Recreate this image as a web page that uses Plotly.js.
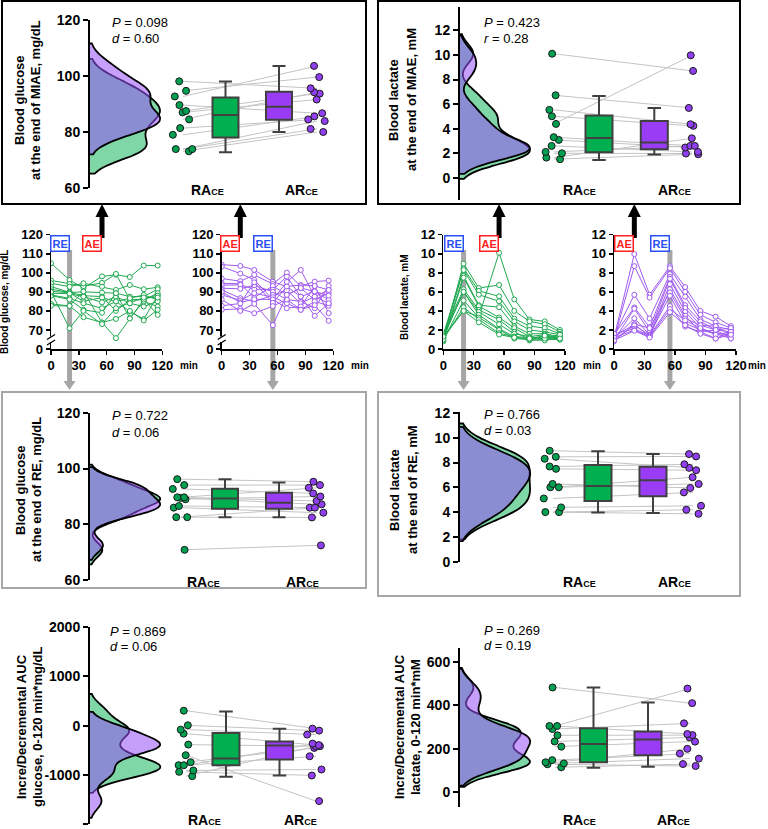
<!DOCTYPE html>
<html>
<head>
<meta charset="utf-8">
<script src="https://cdn.plot.ly/plotly-3.0.1.min.js"></script>
<style>html,body{margin:0;padding:0;background:#fff}</style>
</head>
<body>
<div id="chart" style="width:768px;height:829px"></div>
<script>
// sampling times, min
const times = [0, 20, 35, 55, 70, 85, 100, 115];

// time courses, one row per participant
const glucoseRA = [
  [105, 96.2, 92, 98.1, 99, 97.8, 103.8, 103.8],
  [96, 94.1, 93, 94.7, 99.4, 86, 86, 88.4],
  [94.5, 92.7, 94.5, 92.7, 91, 93.6, 91.4, 92.4],
  [92.8, 89.7, 90, 89.6, 89.3, 87.5, 87.5, 91.4],
  [91.4, 89.7, 88, 87.5, 80, 85.8, 85.8, 89.3],
  [90.3, 89.5, 85, 87.0, 84.9, 86.7, 88.4, 85.8],
  [89.3, 89.0, 87.5, 84.5, 87.5, 84, 82.3, 85],
  [88.4, 86.6, 84, 81.4, 85, 79.7, 75.7, 88],
  [88, 86.0, 80.6, 79.0, 89.3, 76.2, 85, 82.3],
  [83.7, 82.6, 90.2, 73.9, 75.8, 80, 75, 80.6],
  [82.7, 82.6, 76.7, 73.9, 65.7, 76, 86, 77.9],
  [90, 70.9, 80, 73.1, 81.4, 84, 87, 87]
];
const glucoseAR = [
  [104.3, 103.6, 101.5, 95.3, 92.8, 93.6, 93.1, 91],
  [103.2, 99.6, 96.3, 86.0, 95.2, 101.5, 87.5, 84],
  [97, 95.6, 98.9, 94.1, 100.1, 93, 95.4, 95.9],
  [94.5, 94.2, 87, 93.1, 88.4, 91.9, 85.8, 89.3],
  [93.5, 93.7, 91.4, 91.1, 98, 87.5, 90.2, 85.8],
  [91.9, 91.6, 93.5, 90.0, 86, 84.9, 81.4, 93.1],
  [91, 86.7, 84.9, 88.4, 90.7, 84, 87.5, 91],
  [88.4, 85.6, 89.3, 87.2, 84, 80.6, 85, 82.7],
  [90, 84.5, 86.1, 86.0, 81.4, 82.3, 93.1, 78.8],
  [82.7, 83.9, 95, 84.2, 92.8, 87.5, 77.4, 84],
  [80.6, 81.1, 78.8, 82.5, 86, 80.6, 83, 74.8],
  [86, 80.0, 83.7, 72.5, 88.4, 92, 90.2, 88]
];
const lactateRA = [
  [1.2, 4.0, 3.4, 10.1, 5.2, 3.1, 2.9, 2.0],
  [1.0, 8.95, 6.4, 6.72, 4.0, 2.9, 2.6, 1.8],
  [1.5, 8.46, 6.1, 5.53, 3.2, 2.4, 2.2, 1.6],
  [1.3, 8.3, 5.7, 5.01, 2.9, 2.0, 1.8, 1.5],
  [1.1, 7.68, 4.6, 4.39, 2.4, 1.6, 1.6, 1.3],
  [0.8, 7.49, 4.5, 3.31, 2.2, 1.3, 1.5, 1.2],
  [1.6, 6.27, 4.1, 3.09, 1.8, 1.0, 1.3, 1.0],
  [1.2, 6.0, 3.9, 2.6, 1.6, 1.3, 1.0, 1.3],
  [1.4, 6.0, 3.6, 2.11, 1.3, 0.9, 1.0, 1.0],
  [0.9, 5.1, 3.3, 2.0, 1.1, 1.0, 0.9, 1.2],
  [1.0, 4.38, 3.1, 1.65, 1.3, 1.2, 1.1, 1.5],
  [1.3, 4.0, 2.8, 1.52, 1.2, 1.1, 1.4, 1.1]
];
const lactateAR = [
  [1.2, 9.97, 5.7, 8.68, 6.5, 4.0, 3.4, 2.4],
  [1.0, 8.70, 5.4, 8.49, 6.0, 3.6, 2.8, 2.2],
  [1.4, 5.69, 3.2, 7.86, 5.5, 3.1, 2.4, 2.0],
  [1.5, 4.36, 2.3, 7.57, 4.6, 2.9, 2.0, 1.8],
  [0.9, 4.23, 1.8, 7.38, 4.3, 2.5, 2.4, 1.5],
  [1.1, 3.22, 1.5, 6.81, 3.9, 2.2, 1.6, 1.1],
  [0.8, 2.6, 1.3, 6.27, 3.5, 1.8, 1.1, 1.8],
  [1.3, 2.6, 2.2, 5.95, 3.2, 2.5, 2.0, 2.2],
  [1.0, 2.47, 1.5, 5.59, 2.7, 2.0, 1.6, 1.5],
  [1.6, 2.11, 1.4, 4.51, 2.35, 1.8, 2.0, 1.1],
  [1.2, 1.98, 1.3, 4.19, 3.0, 2.2, 1.5, 1.8],
  [0.9, 1.92, 1.2, 3.86, 2.5, 1.6, 1.1, 1.5]
];

// paired values of the raincloud panels (index = participant)
const miaeGlucoseRA = [98.1, 94.7, 92.7, 89.6, 87.5, 87.0, 84.5, 81.4, 79.0, 73.9, 73.9, 73.1];
const miaeGlucoseAR = [95.6, 99.6, 103.6, 86.7, 93.7, 91.6, 94.2, 84.5, 85.6, 83.9, 81.1, 80.0];
const miaeLactateRA = [10.1, 6.72, 5.53, 5.01, 4.39, 3.31, 3.09, 2.6, 2.11, 2.0, 1.65, 1.52];
const miaeLactateAR = [8.70, 5.69, 4.36, 4.23, 9.97, 2.6, 2.47, 2.11, 2.6, 1.98, 3.22, 1.92];
const reGlucoseRA = [96.2, 94.1, 92.7, 89.7, 89.7, 89.5, 89.0, 86.6, 86.0, 82.6, 82.6, 70.9];
const reGlucoseAR = [95.3, 94.1, 91.1, 93.1, 88.4, 87.2, 90.0, 86.0, 84.2, 86.0, 82.5, 72.5];
const reLactateRA = [8.95, 8.46, 8.3, 7.68, 7.49, 6.27, 6.0, 6.0, 5.1, 4.38, 4.0, 4.0];
const reLactateAR = [8.68, 8.49, 7.57, 7.86, 7.38, 5.95, 6.81, 6.27, 5.59, 4.51, 3.86, 4.19];
const aucGlucoseRA = [304, 7, -81, -162, -385, -601, -743, -804, -804, -912, -939, -1027];
const aucGlucoseAR = [-61, -101, -182, -395, -419, -1534, -453, -365, -622, -892, -1014, -419];
const aucLactateRA = [482, 305, 305, 291, 262, 234, 210, 148, 138, 133, 129, 115];
const aucLactateAR = [410, 477, 268, 317, 263, 252, 233, 178, 200, 155, 121, 130];

// box statistics as drawn: [lower whisker, Q1, median, Q3, upper whisker]
const miaeGlucoseBoxRA = [72.8, 78, 86.1, 92.3, 98];
const miaeGlucoseBoxAR = [80, 84.4, 89, 94.4, 103.6];
const miaeLactateBoxRA = [1.46, 2.09, 3.25, 5.07, 6.67];
const miaeLactateBoxAR = [1.9, 2.33, 2.87, 4.63, 5.69];
const reGlucoseBoxRA = [82.6, 85.6, 89.3, 92.8, 96.2];
const reGlucoseBoxAR = [82.6, 85.6, 87.8, 91.3, 95];
const reLactateBoxRA = [3.97, 4.89, 6.1, 7.81, 8.9];
const reLactateBoxAR = [3.92, 5.27, 6.57, 7.65, 8.68];
const aucGlucoseBoxRA = [-1040, -804, -669, -149, 290];
const aucGlucoseBoxAR = [-1014, -689, -405, -324, -61];
const aucLactateBoxRA = [113, 138, 222, 294, 482];
const aucLactateBoxAR = [118, 170, 243, 280, 413];

const FONT = 'Liberation Sans, Arial, sans-serif';
const W = 768, H = 829;
const fx = p => p / W;
const fy = p => 1 - p / H;

// layout of the six raincloud panels, in pixels
const panels = [
  {ra: miaeGlucoseRA, ar: miaeGlucoseAR, bra: miaeGlucoseBoxRA, bar: miaeGlucoseBoxAR,
   l: 90, r: 345, t: 20, b: 188, yr: [60, 120], dt: 20, kde: 4,
   box: [135.5, 189], cloud: [93, 227], bw: 26, labY: 190, labX: [207, 301],
   stat: ['<i>P</i> = 0.098', '<i>d</i> = 0.60'], statX: 110, statY: [23, 38],
   title: ['Blood glucose', 'at the end of MIAE, mg/dL'], titleX: [20, 36], titleY: 100},
  {ra: miaeLactateRA, ar: miaeLactateAR, bra: miaeLactateBoxRA, bar: miaeLactateBoxAR,
   l: 460, r: 720, t: 7, b: 200, yr: [-1.8, 13.9], dt: 2, kde: 0.8,
   box: [139, 194.3], cloud: [94, 232], bw: 27, labY: 190, labX: [579, 674],
   stat: ['<i>P</i> = 0.423', '<i>r</i> = 0.28'], statX: 482, statY: [23, 38],
   title: ['Blood lactate', 'at the end of MIAE, mM'], titleX: [394, 412], titleY: 100},
  {ra: reGlucoseRA, ar: reGlucoseAR, bra: reGlucoseBoxRA, bar: reGlucoseBoxAR,
   l: 90, r: 345, t: 412.7, b: 580.3, yr: [60, 120], dt: 20, kde: 2.6,
   box: [135, 189], cloud: [91, 227], bw: 26, labY: 581.7, labX: [203, 302],
   stat: ['<i>P</i> = 0.722', '<i>d</i> = 0.06'], statX: 110, statY: [415, 432],
   title: ['Blood glucose', 'at the end of RE, mg/dL'], titleX: [20, 36], titleY: 490},
  {ra: reLactateRA, ar: reLactateAR, bra: reLactateBoxRA, bar: reLactateBoxAR,
   l: 460, r: 720, t: 411.7, b: 561.7, yr: [0, 12.1], dt: 2, kde: 1.1,
   box: [138, 193], cloud: [93, 233], bw: 27, labY: 581.7, labX: [579, 674],
   stat: ['<i>P</i> = 0.766', '<i>d</i> = 0.03'], statX: 482, statY: [414, 430],
   title: ['Blood lactate', 'at the end of RE, mM'], titleX: [394, 412], titleY: 490},
  {ra: aucGlucoseRA, ar: aucGlucoseAR, bra: aucGlucoseBoxRA, bar: aucGlucoseBoxAR,
   l: 90, r: 345, t: 627.3, b: 824, yr: [-2000, 2000], dt: 1000, kde: 170,
   box: [136, 189.5], cloud: [96, 226], bw: 27, labY: 820, labX: [204, 300],
   stat: ['<i>P</i> = 0.869', '<i>d</i> = 0.06'], statX: 108, statY: [631, 646],
   title: ['Incre/Decremental AUC', 'glucose, 0-120 min*mg/dL'], titleX: [21, 37], titleY: 727},
  {ra: aucLactateRA, ar: aucLactateAR, bra: aucLactateBoxRA, bar: aucLactateBoxAR,
   l: 460, r: 720, t: 648.3, b: 806.7, yr: [-66, 662], dt: 200, kde: 45,
   box: [133.5, 188], cloud: [95, 230], bw: 27, labY: 820, labX: [579, 673],
   stat: ['<i>P</i> = 0.269', '<i>d</i> = 0.19'], statX: 482, statY: [630, 645],
   title: ['Incre/Decremental AUC', 'lactate, 0-120 min*mM'], titleX: [399, 415], titleY: 727}
];

// layout of the four time-course charts, in pixels
const lineCharts = [
  {rows: glucoseRA, color: '#1fa84f', l: 51, r: 162.3, yr: [60, 120], re: 20, ae: 55, brk: true},
  {rows: glucoseAR, color: '#a05af0', l: 221.7, r: 333.3, yr: [60, 120], re: 55, ae: 20, brk: true},
  {rows: lactateRA, color: '#1fa84f', l: 443.3, r: 565, yr: [0, 12], re: 20, ae: 55, brk: false},
  {rows: lactateAR, color: '#a05af0', l: 614, r: 736, yr: [0, 12], re: 55, ae: 20, brk: false}
];
const LT = 234.7, LB = 349;

const traces = [];
const annotations = [];
const shapes = [];
const layout = {
  width: W, height: H,
  margin: {l: 0, r: 0, t: 0, b: 0},
  showlegend: false,
  paper_bgcolor: '#fff',
  plot_bgcolor: 'rgba(0,0,0,0)',
  font: {family: FONT, color: '#000'}
};

const boldFont = size => ({family: FONT, size: size, color: '#000', weight: 'bold'});
const text = (x, y, s, font, extra) => annotations.push(Object.assign({
  xref: 'paper', yref: 'paper', x: fx(x), y: fy(y), text: s, showarrow: false,
  xanchor: 'center', yanchor: 'middle', font: font
}, extra || {}));

panels.forEach((p, i) => {
  const n1 = 2 * i + 1, n2 = 2 * i + 2;
  const xb = 'x' + n1, yb = 'y' + n1, xo = 'x' + n2, yo = 'y' + n2;
  const xr = [0, p.r - p.l];
  const tv = [];
  for (let v = Math.ceil(p.yr[0] / p.dt) * p.dt; v <= p.yr[1]; v += p.dt) tv.push(v);

  layout['xaxis' + n1] = {domain: [fx(p.l), fx(p.r)], range: xr, visible: false, anchor: yb};
  layout['yaxis' + n1] = {
    domain: [fy(p.b), fy(p.t)], range: p.yr, anchor: xb,
    showline: true, linecolor: '#000', linewidth: 2,
    ticks: 'outside', ticklen: 5, tickwidth: 2, tickcolor: '#000',
    tickvals: tv, ticktext: tv.map(String),
    showgrid: false, zeroline: false, tickfont: boldFont(14)
  };
  layout['xaxis' + n2] = {overlaying: xb, range: xr, visible: false, anchor: yo};
  layout['yaxis' + n2] = {overlaying: yb, range: p.yr, visible: false, anchor: xo};

  // paired lines, under the boxes
  const lx = [], ly = [];
  p.ra.forEach((v, k) => { lx.push(p.cloud[0], p.cloud[1], null); ly.push(v, p.ar[k], null); });
  traces.push({type: 'scatter', mode: 'lines', x: lx, y: ly, xaxis: xb, yaxis: yb,
    line: {color: '#c4c4c4', width: 1}, hoverinfo: 'skip'});

  // half violins
  [[p.ra, 'rgba(0,176,80,0.5)'], [p.ar, 'rgba(150,80,245,0.55)']].forEach(([vals, fill]) => traces.push({
    type: 'violin', x0: 0, y: vals, side: 'positive', width: 140, bandwidth: p.kde,
    xaxis: xo, yaxis: yo, points: false, box: {visible: false}, meanline: {visible: false},
    line: {color: '#000', width: 1.8}, fillcolor: fill,
    scalegroup: 'g' + i, scalemode: 'count', hoverinfo: 'skip'}));

  // boxes from their statistics, then jittered points on their own invisible box
  [[p.ra, p.bra, '#00b050', '#00a050', 0], [p.ar, p.bar, '#9a3cf5', '#9040f0', 1]].forEach(([vals, st, fill, dot, j]) => {
    traces.push({type: 'box', x: [p.box[j]], lowerfence: [st[0]], q1: [st[1]], median: [st[2]],
      q3: [st[3]], upperfence: [st[4]], width: p.bw, xaxis: xo, yaxis: yo, boxpoints: false,
      fillcolor: fill, line: {color: '#404040', width: 2}, whiskerwidth: 0.5, hoverinfo: 'skip'});
    traces.push({type: 'box', y: vals, x0: p.cloud[j], width: 24,
      xaxis: xo, yaxis: yo, boxpoints: 'all', jitter: 1, pointpos: 0,
      fillcolor: 'rgba(0,0,0,0)', line: {color: 'rgba(0,0,0,0)', width: 0},
      marker: {color: dot, size: 7, line: {color: '#1a1a1a', width: 1}}, hoverinfo: 'skip'});
  });

  text(p.labX[0], p.labY, 'RA<span style="font-size:9px">CE</span>', boldFont(14));
  text(p.labX[1], p.labY, 'AR<span style="font-size:9px">CE</span>', boldFont(14));
  p.stat.forEach((s, k) => text(p.statX, p.statY[k], s, {family: FONT, size: 13, color: '#000'}, {xanchor: 'left'}));
  p.title.forEach((s, k) => text(p.titleX[k], p.titleY, s, boldFont(13), {textangle: -90}));
});

// time-course charts
lineCharts.forEach((c, i) => {
  const n = 13 + i, xa = 'x' + n, ya = 'y' + n;
  const glu = c.brk;
  const tv = [];
  for (let v = c.yr[0]; v <= c.yr[1]; v += glu ? 10 : 2) tv.push(v);
  layout['xaxis' + n] = {
    domain: [fx(c.l), fx(c.r)], range: [0, 120], anchor: ya,
    showline: true, linecolor: '#000', linewidth: 1.5,
    ticks: 'outside', ticklen: 4, tickwidth: 1.5, tickcolor: '#000',
    tickvals: [0, 30, 60, 90, 120], showgrid: false, zeroline: false, tickfont: boldFont(13)
  };
  layout['yaxis' + n] = {
    domain: [fy(LB), fy(LT)], range: c.yr, anchor: xa,
    showline: true, linecolor: '#000', linewidth: 1.5,
    ticks: 'outside', ticklen: 4, tickwidth: 1.5, tickcolor: '#000',
    tickvals: tv, ticktext: tv.map(v => (glu && v === c.yr[0]) ? '0' : String(v)),
    showgrid: false, zeroline: false, tickfont: boldFont(13)
  };
  c.rows.forEach(row => traces.push({
    type: 'scatter', mode: 'lines+markers', x: times, y: row, xaxis: xa, yaxis: ya,
    line: {color: c.color, width: 1},
    marker: {symbol: 'circle', size: 5, color: '#fff', line: {color: c.color, width: 1}},
    hoverinfo: 'skip'
  }));

  const tx = t => c.l + (c.r - c.l) * t / 120;
  // RE / AE tags
  [['RE', c.re, '#2a4ff5'], ['AE', c.ae, '#ff1f1f']].forEach(([s, t, col]) => annotations.push({
    xref: xa, yref: 'paper', x: t, y: fy(243.5), xanchor: 'right', yanchor: 'middle',
    text: '<b>' + s + '</b>', showarrow: false,
    font: {family: FONT, size: 11, color: col}, bordercolor: col, borderwidth: 1.5,
    borderpad: 1, bgcolor: '#fff'
  }));
  text(Math.min(c.r + 27, 757), 365, 'min', boldFont(10));

  // grey bar from RE down to the next row
  const xr = tx(c.re);
  shapes.push({type: 'rect', xref: 'paper', yref: 'paper', layer: 'below',
    x0: fx(xr - 2.5), x1: fx(xr + 2.5), y0: fy(381), y1: fy(250),
    fillcolor: '#a6a6a6', line: {width: 0}});
  shapes.push({type: 'path', xref: 'paper', yref: 'paper', layer: 'below',
    path: `M${fx(xr - 6)},${fy(381)} L${fx(xr + 6)},${fy(381)} L${fx(xr)},${fy(390)} Z`,
    fillcolor: '#a6a6a6', line: {width: 0}});

  // black arrow from AE up to the top row
  const xa2 = tx(c.ae);
  shapes.push({type: 'rect', xref: 'paper', yref: 'paper',
    x0: fx(xa2 - 2.5), x1: fx(xa2 + 2.5), y0: fy(238), y1: fy(216),
    fillcolor: '#000', line: {width: 0}});
  shapes.push({type: 'path', xref: 'paper', yref: 'paper',
    path: `M${fx(xa2 - 6.5)},${fy(217)} L${fx(xa2 + 6.5)},${fy(217)} L${fx(xa2)},${fy(204)} Z`,
    fillcolor: '#000', line: {width: 0}});

  // axis break on the glucose charts
  if (glu) {
    shapes.push({type: 'rect', xref: 'paper', yref: 'paper',
      x0: fx(c.l - 2), x1: fx(c.l + 2), y0: fy(342), y1: fy(336.5),
      fillcolor: '#fff', line: {width: 0}});
    [337, 342.5].forEach(y => shapes.push({type: 'line', xref: 'paper', yref: 'paper',
      x0: fx(c.l - 4), y0: fy(y + 2.5), x1: fx(c.l + 4), y1: fy(y - 2.5),
      line: {color: '#000', width: 1.3}}));
  }
});

text(4, 302, 'Blood glucose, mg/dL', boldFont(10), {textangle: -90});
text(404, 297, 'Blood lactate, mM', boldFont(10), {textangle: -90});

// panel frames
[[2, 1, 366, 204, '#000'], [378, 1, 740, 204, '#000'],
 [2, 392, 366, 588, '#a6a6a6'], [378, 392, 740, 596, '#a6a6a6']].forEach(([x0, y0, x1, y1, col]) =>
  shapes.push({type: 'rect', xref: 'paper', yref: 'paper',
    x0: fx(x0), x1: fx(x1), y0: fy(y1), y1: fy(y0), line: {color: col, width: 2}}));

layout.annotations = annotations;
layout.shapes = shapes;

Plotly.newPlot('chart', traces, layout, {staticPlot: true});
</script>
</body>
</html>
